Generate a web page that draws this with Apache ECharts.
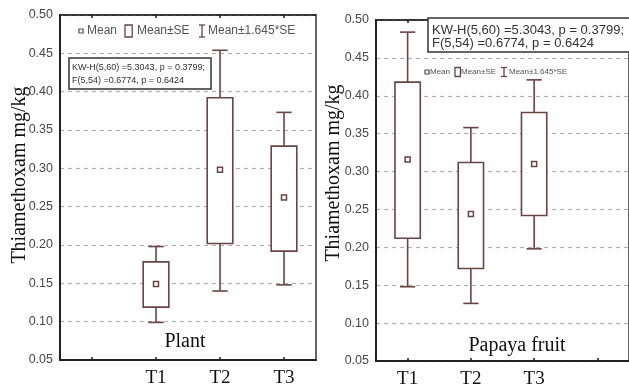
<!DOCTYPE html>
<html>
<head>
<meta charset="utf-8">
<script src="https://cdn.jsdelivr.net/npm/echarts@6/dist/echarts.min.js"></script>
<style>
html,body{margin:0;padding:0;background:#fff;}
#c{width:629px;height:389px;}
</style>
</head>
<body>
<div id="c"></div>
<script>
// ---- data ----
var plantCategories = ['', 'T1', 'T2', 'T3'];
var fruitCategories = ['T1', 'T2', 'T3', ''];
var yTicks = [0.05, 0.10, 0.15, 0.20, 0.25, 0.30, 0.35, 0.40, 0.45, 0.50];
// each: [category, mean-1.645SE, mean-SE, mean, mean+SE, mean+1.645SE]
var plantT1 = ['T1', 0.099, 0.119, 0.149, 0.178, 0.198];
var plantT2 = ['T2', 0.140, 0.202, 0.298, 0.392, 0.454];
var plantT3 = ['T3', 0.148, 0.192, 0.262, 0.329, 0.373];
var fruitT1 = ['T1', 0.148, 0.212, 0.316, 0.418, 0.484];
var fruitT2 = ['T2', 0.126, 0.172, 0.244, 0.312, 0.358];
var fruitT3 = ['T3', 0.198, 0.242, 0.310, 0.378, 0.421];
var statLine1 = 'KW-H(5,60) =5.3043, p = 0.3799;';
var statLine2 = 'F(5,54) =0.6774, p = 0.6424';
var legendLabels = ['Mean', 'Mean±SE', 'Mean±1.645*SE'];
var yName = 'Thiamethoxam mg/kg';
var plantTitle = 'Plant';
var fruitTitle = 'Papaya fruit';

var BOX = '#6a4444';
var SERIF = '"Liberation Serif", "Times New Roman", serif';
var SANS = '"Liberation Sans", Arial, sans-serif';

function renderBox(params, api) {
  var x = api.value(0);
  var lo = api.coord([x, api.value(1)]);
  var bl = api.coord([x, api.value(2)]);
  var mn = api.coord([x, api.value(3)]);
  var bh = api.coord([x, api.value(4)]);
  var hi = api.coord([x, api.value(5)]);
  var w = api.size([1, 0])[0];
  var bw = w * 0.4, cw = w * 0.24;
  var cx = lo[0];
  var st = {stroke: BOX, lineWidth: 1.6, fill: null};
  return {
    type: 'group',
    children: [
      {type: 'line', shape: {x1: cx, y1: hi[1], x2: cx, y2: bh[1]}, style: st},
      {type: 'line', shape: {x1: cx - cw / 2, y1: hi[1], x2: cx + cw / 2, y2: hi[1]}, style: st},
      {type: 'line', shape: {x1: cx, y1: lo[1], x2: cx, y2: bl[1]}, style: st},
      {type: 'line', shape: {x1: cx - cw / 2, y1: lo[1], x2: cx + cw / 2, y2: lo[1]}, style: st},
      {type: 'rect', shape: {x: cx - bw / 2, y: bh[1], width: bw, height: bl[1] - bh[1]}, style: {stroke: BOX, lineWidth: 1.6, fill: '#fff'}},
      {type: 'rect', shape: {x: cx - 2.5, y: mn[1] - 2.5, width: 5, height: 5}, style: {stroke: BOX, lineWidth: 1.5, fill: '#fff'}}
    ]
  };
}

function xAxisBottom(grid, cats) {
  return {
    type: 'category', gridIndex: grid, data: cats, position: 'bottom',
    boundaryGap: true,
    axisLine: {show: true, lineStyle: {color: '#222', width: 2}},
    axisTick: {show: true, alignWithLabel: true, inside: true, length: 3, lineStyle: {color: '#222', width: 1.5}},
    axisLabel: {show: true, color: '#111', fontFamily: SERIF, fontSize: 19, margin: 9},
    splitLine: {show: false}
  };
}
function xAxisTop(grid, cats) {
  return {
    type: 'category', gridIndex: grid, data: cats, position: 'top',
    boundaryGap: true,
    axisLine: {show: true, lineStyle: {color: '#222', width: 1.5}},
    axisTick: {show: true, alignWithLabel: true, inside: true, length: 3, lineStyle: {color: '#222', width: 1.5}},
    axisLabel: {show: false},
    splitLine: {show: false}
  };
}
function yAxisLeft(grid) {
  return {
    type: 'value', gridIndex: grid, min: 0.05, max: 0.50, interval: 0.05,
    axisLine: {show: true, lineStyle: {color: '#222', width: 2}},
    axisTick: {show: false},
    axisLabel: {color: '#4a4a4a', fontFamily: SANS, fontSize: 12.5, margin: 7,
      formatter: function (v) {
        for (var i = 0; i < yTicks.length; i++) { if (Math.abs(yTicks[i] - v) < 1e-9) return yTicks[i].toFixed(2); }
        return '';
      }},
    splitLine: {show: true, lineStyle: {color: '#b0b0b0', type: [4, 4], width: 1.2}}
  };
}

function legendGraphics(y, fs, pos, iconH) {
  // pos: [iconMean, textMean, iconBox, textBox, iconWhisk, textWhisk]
  var g = [];
  g.push({type: 'rect', shape: {x: pos[0], y: y - 2, width: 4, height: 4}, style: {stroke: BOX, lineWidth: 1.2, fill: '#fff'}});
  g.push({type: 'text', x: pos[1], y: y, style: {text: legendLabels[0], font: fs + 'px ' + SANS, fill: '#555', verticalAlign: 'middle'}});
  g.push({type: 'rect', shape: {x: pos[2], y: y - iconH / 2, width: iconH * 0.6, height: iconH}, style: {stroke: BOX, lineWidth: 1.3, fill: '#fff'}});
  g.push({type: 'text', x: pos[3], y: y, style: {text: legendLabels[1], font: fs + 'px ' + SANS, fill: '#555', verticalAlign: 'middle'}});
  g.push({type: 'line', shape: {x1: pos[4], y1: y - iconH / 2, x2: pos[4], y2: y + iconH / 2}, style: {stroke: BOX, lineWidth: 1.3}});
  g.push({type: 'line', shape: {x1: pos[4] - 3, y1: y - iconH / 2, x2: pos[4] + 3, y2: y - iconH / 2}, style: {stroke: BOX, lineWidth: 1.3}});
  g.push({type: 'line', shape: {x1: pos[4] - 3, y1: y + iconH / 2, x2: pos[4] + 3, y2: y + iconH / 2}, style: {stroke: BOX, lineWidth: 1.3}});
  g.push({type: 'text', x: pos[5], y: y, style: {text: legendLabels[2], font: fs + 'px ' + SANS, fill: '#555', verticalAlign: 'middle'}});
  return g;
}

var graphics = [];
// left stats box
graphics.push({type: 'rect', shape: {x: 69, y: 58, width: 142, height: 31}, style: {stroke: '#333', lineWidth: 1.5, fill: '#fff'}, z: 10});
graphics.push({type: 'text', x: 72, y: 68, style: {text: statLine1, font: '9px ' + SANS, fill: '#333', verticalAlign: 'middle'}, z: 11});
graphics.push({type: 'text', x: 72, y: 81, style: {text: statLine2, font: '9px ' + SANS, fill: '#333', verticalAlign: 'middle'}, z: 11});
// right stats box
graphics.push({type: 'rect', shape: {x: 428, y: 18, width: 220, height: 34}, style: {stroke: '#333', lineWidth: 1.5, fill: '#fff'}, z: 10});
graphics.push({type: 'text', x: 432, y: 30, style: {text: statLine1, font: '13px ' + SANS, fill: '#333', verticalAlign: 'middle'}, z: 11});
graphics.push({type: 'text', x: 432, y: 43, style: {text: statLine2, font: '13px ' + SANS, fill: '#333', verticalAlign: 'middle'}, z: 11});
// legends
graphics = graphics.concat(legendGraphics(31, 12, [79, 87, 125, 137, 202, 208], 12));
graphics = graphics.concat(legendGraphics(72, 8, [425, 430, 455, 461, 504, 509], 9));
// titles
graphics.push({type: 'text', x: 185, y: 342, style: {text: plantTitle, font: '20px ' + SERIF, fill: '#111', align: 'center', verticalAlign: 'middle'}});
graphics.push({type: 'text', x: 517, y: 346, style: {text: fruitTitle, font: '20px ' + SERIF, fill: '#111', align: 'center', verticalAlign: 'middle'}});
// y names
graphics.push({type: 'text', x: 20, y: 175, rotation: Math.PI / 2, style: {text: yName, font: '20px ' + SERIF, fill: '#111', align: 'center', verticalAlign: 'middle'}});
graphics.push({type: 'text', x: 334, y: 173, rotation: Math.PI / 2, style: {text: yName, font: '20px ' + SERIF, fill: '#111', align: 'center', verticalAlign: 'middle'}});

var chart = echarts.init(document.getElementById('c'), null, {renderer: 'canvas'});
chart.setOption({
  animation: false,
  backgroundColor: '#fff',
  grid: [
    {left: 60, top: 15, width: 256, height: 345, show: true, borderColor: '#333', borderWidth: 1.5, backgroundColor: 'transparent'},
    {left: 376, top: 20, width: 262, height: 344, show: true, borderColor: '#333', borderWidth: 1.5, backgroundColor: 'transparent'}
  ],
  xAxis: [xAxisBottom(0, plantCategories), xAxisTop(0, plantCategories), xAxisBottom(1, fruitCategories), xAxisTop(1, fruitCategories)],
  yAxis: [yAxisLeft(0), yAxisLeft(1)],
  series: [
    {type: 'custom', xAxisIndex: 0, yAxisIndex: 0, renderItem: renderBox, data: [plantT1, plantT2, plantT3], z: 5},
    {type: 'custom', xAxisIndex: 2, yAxisIndex: 1, renderItem: renderBox, data: [fruitT1, fruitT2, fruitT3], z: 5}
  ],
  graphic: graphics
});
</script>
</body>
</html>
